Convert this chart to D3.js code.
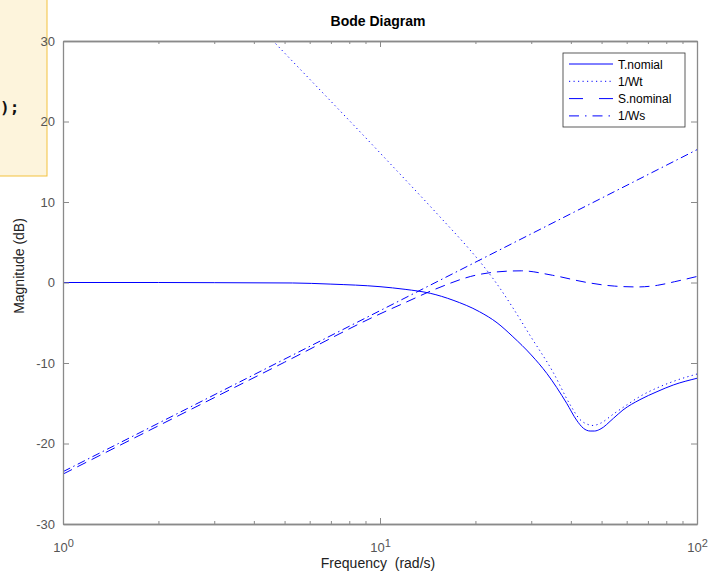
<!DOCTYPE html>
<html>
<head>
<meta charset="utf-8">
<script src="https://cdn.jsdelivr.net/npm/d3@7"></script>
<style>
  body { margin: 0; background: #fff; }
  svg text { font-family: "Liberation Sans", Arial, Helvetica, sans-serif; }
</style>
</head>
<body>
<div id="chart"></div>
<script>
// Data (frequency in rad/s, magnitude in dB)
const tFreq = [1, 2, 3, 5.3, 7, 10, 12, 14.4, 17, 20.6, 23.4, 26.25, 30, 33.6, 38.8, 41.7, 43.8, 46, 47.5, 49.4, 54.5, 58.4, 66.1, 74.8, 84.2, 100];
const tMag  = [0, 0, -0.02, -0.06, -0.2, -0.52, -0.85, -1.34, -2.2, -3.63, -5.0, -6.73, -9.0, -11.3, -15.0, -17.1, -18.1, -18.45, -18.45, -18.24, -16.87, -15.84, -14.55, -13.56, -12.73, -11.9];

const wtFreq = [4, 4.6, 10.22, 15.47, 19.23, 21.44, 23.39, 26.28, 29.74, 35.13, 39.76, 42.74, 45.32, 46.98, 49.4, 54.5, 60, 66.1, 76.4, 84, 100];
const wtMag  = [32.5, 30.0, 15.71, 8.14, 4.04, 1.8, -0.19, -3.17, -6.58, -11.12, -15.16, -17.02, -17.64, -17.76, -17.52, -16.34, -15.22, -14.15, -12.94, -12.3, -11.37];

const sFreq = [1, 2, 5, 10, 12, 15, 20, 25, 28, 35, 45, 55, 65, 75, 85, 100];
const sMag  = [-23.8, -17.8, -9.9, -3.9, -2.5, -0.8, 0.9, 1.4, 1.45, 0.9, 0.0, -0.45, -0.55, -0.35, 0.1, 0.75];

const wsFreq = [1, 10, 100];
const wsMag  = [-23.5, -3.5, 16.5];

const legendLabels = ["T.nomial", "1/Wt", "S.nominal", "1/Ws"];
const yTicks = [-30, -20, -10, 0, 10, 20, 30];
const xMajor = [1, 10, 100];
const xMinor = [2, 3, 4, 5, 6, 7, 8, 9, 20, 30, 40, 50, 60, 70, 80, 90];

const W = 724, H = 573;
const pl = 63, pr = 697, pt = 41, pb = 524;

const svg = d3.select("#chart").append("svg")
    .attr("width", W)
    .attr("height", H);

svg.append("rect").attr("width", W).attr("height", H).attr("fill", "#fff");

// yellow snippet box peeking in at the top left
svg.append("rect")
    .attr("x", -2).attr("y", -2)
    .attr("width", 49).attr("height", 178)
    .attr("fill", "#fdf4dc")
    .attr("stroke", "#f3c23e")
    .attr("stroke-width", 1);
svg.append("text")
    .attr("x", 0).attr("y", 113)
    .style("font-family", "'DejaVu Sans Mono', 'Liberation Mono', monospace")
    .style("font-weight", "bold")
    .style("font-size", "16px")
    .attr("fill", "#111")
    .text(");");

// Scales
const x = d3.scaleLog().domain([1, 100]).range([pl, pr]);
const y = d3.scaleLinear().domain([-30, 30]).range([pb, pt]);

const axisColor = "#8a8a8a";
const labelColor = "#555";

// Plot clip
svg.append("clipPath").attr("id", "clip")
  .append("rect")
    .attr("x", pl).attr("y", pt)
    .attr("width", pr - pl).attr("height", pb - pt);

const line = d3.line()
    .x(d => x(d[0]))
    .y(d => y(d[1]))
    .curve(d3.curveMonotoneX);

const series = [
    { f: tFreq,  m: tMag,  dash: null,            legDash: null },
    { f: wtFreq, m: wtMag, dash: "1.2,3.3",       legDash: "1.2,3.3" },
    { f: sFreq,  m: sMag,  dash: "10,6",          legDash: "14,16" },
    { f: wsFreq, m: wsMag, dash: "8,3.5,1.5,3.5", legDash: "10,6,1.5,6" }
];

const plot = svg.append("g").attr("clip-path", "url(#clip)");
series.forEach(s => {
    plot.append("path")
        .datum(s.f.map((f, i) => [f, s.m[i]]))
        .attr("d", line)
        .attr("fill", "none")
        .attr("stroke", "#0000ff")
        .attr("stroke-width", 1)
        .attr("stroke-dasharray", s.dash);
});

// Axes (ticks point inward, box on all sides)
function styleAxis(g) {
    g.select(".domain").attr("stroke", axisColor).attr("stroke-width", 1.3);
    g.selectAll(".tick line").attr("stroke", axisColor).attr("stroke-width", 1);
    g.selectAll(".tick text").attr("fill", labelColor).style("font-size", "13px")
        .style("font-family", "'Liberation Sans', Arial, sans-serif");
}

svg.append("g")
    .attr("transform", `translate(${pl},0)`)
    .call(d3.axisLeft(y).tickValues(yTicks).tickSize(-6).tickSizeOuter(0).tickPadding(8).tickFormat(d => String(d)))
    .call(styleAxis);

svg.append("g")
    .attr("transform", `translate(${pr},0)`)
    .call(d3.axisRight(y).tickValues(yTicks).tickSize(-6).tickSizeOuter(0).tickFormat(""))
    .call(styleAxis);

// minor x ticks
svg.append("g")
    .attr("transform", `translate(0,${pb})`)
    .call(d3.axisBottom(x).tickValues(xMinor).tickSize(-3).tickSizeOuter(0).tickFormat(""))
    .call(styleAxis);
svg.append("g")
    .attr("transform", `translate(0,${pt})`)
    .call(d3.axisTop(x).tickValues(xMinor).tickSize(-3).tickSizeOuter(0).tickFormat(""))
    .call(styleAxis);

// major x ticks with 10^n labels
const xb = svg.append("g")
    .attr("transform", `translate(0,${pb})`)
    .call(d3.axisBottom(x).tickValues(xMajor).tickSize(-6).tickSizeOuter(0).tickPadding(19).tickFormat(""))
    .call(styleAxis);
xb.selectAll(".tick text").each(function(d) {
    const t = d3.select(this);
    t.append("tspan").text("10");
    t.append("tspan").attr("dy", "-0.5em").style("font-size", "11px").text(Math.round(Math.log10(d)));
});
svg.append("g")
    .attr("transform", `translate(0,${pt})`)
    .call(d3.axisTop(x).tickValues(xMajor).tickSize(-6).tickSizeOuter(0).tickFormat(""))
    .call(styleAxis);

// Title and axis labels
svg.append("text")
    .attr("x", 378).attr("y", 26)
    .attr("text-anchor", "middle")
    .style("font-size", "14px")
    .style("font-weight", "bold")
    .attr("fill", "#000")
    .text("Bode Diagram");

svg.append("text")
    .attr("x", 378).attr("y", 568)
    .attr("text-anchor", "middle")
    .style("font-size", "14px")
    .attr("fill", "#222")
    .text("Frequency\u00a0\u00a0(rad/s)");

svg.append("text")
    .attr("transform", "translate(24,266) rotate(-90)")
    .attr("text-anchor", "middle")
    .style("font-size", "14px")
    .attr("fill", "#222")
    .text("Magnitude (dB)");

// Legend
const legend = svg.append("g");
legend.append("rect")
    .attr("x", 563).attr("y", 53)
    .attr("width", 122).attr("height", 74)
    .attr("fill", "#fff")
    .attr("stroke", "#333")
    .attr("stroke-width", 0.8);

legendLabels.forEach((lab, i) => {
    const ly = 64 + i * 17.3;
    legend.append("line")
        .attr("x1", 569).attr("x2", 613)
        .attr("y1", ly).attr("y2", ly)
        .attr("stroke", "#0000ff")
        .attr("stroke-width", 1)
        .attr("stroke-dasharray", series[i].legDash);
    legend.append("text")
        .attr("x", 618).attr("y", ly + 4.5)
        .style("font-size", "12px")
        .attr("fill", "#000")
        .text(lab);
});
</script>
</body>
</html>
